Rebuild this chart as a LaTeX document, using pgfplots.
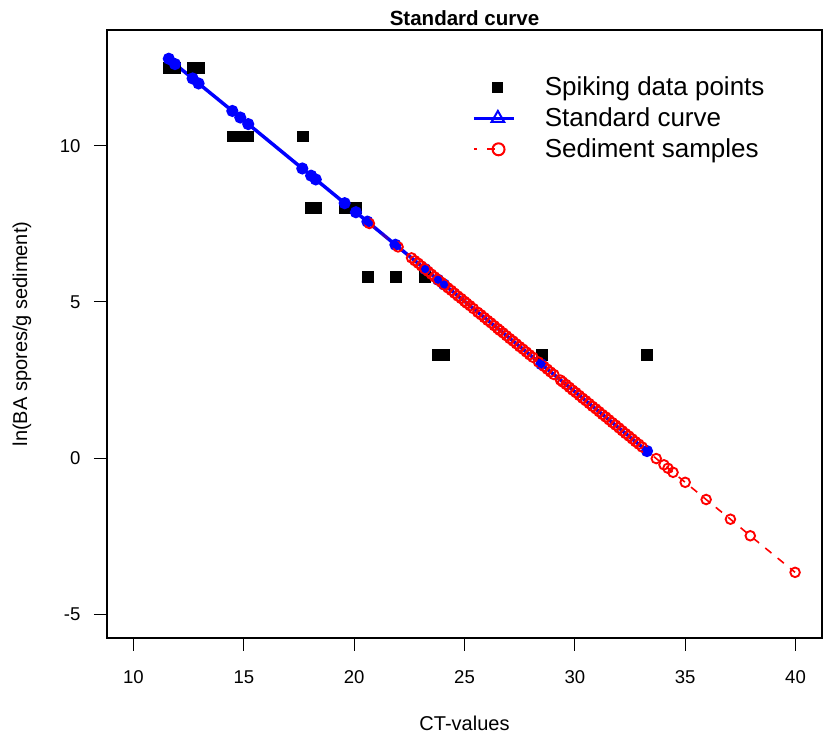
\documentclass[border=0pt]{standalone}
\usepackage{pgfplots}
\pgfplotsset{compat=1.18}
\usepackage{fontspec}
\setmainfont{Liberation Sans}

% spiking data: CT value vs ln(spores/g)
\pgfplotstableread{
x y
11.60 12.50
11.88 12.50
12.68 12.50
12.95 12.50
14.48 10.30
14.84 10.30
15.20 10.30
17.65 10.30
18.05 8.00
18.26 8.00
19.57 8.00
20.08 8.00
20.60 5.80
21.87 5.80
23.22 5.80
23.80 3.30
24.07 3.30
28.48 3.30
33.27 3.30
}\spiking

% fitted standard curve at the spiking CT values
\pgfplotstableread{
x y
11.60 12.78
11.88 12.61
12.68 12.15
12.95 11.99
14.48 11.11
14.84 10.90
15.20 10.69
17.65 9.27
18.05 9.04
18.26 8.92
19.57 8.16
20.08 7.87
20.60 7.57
21.87 6.83
23.22 6.05
23.80 5.71
24.07 5.56
28.48 3.01
33.27 0.23
}\standard

% sediment samples
\pgfplotstableread{
x y
20.69 7.51
21.99 6.76
22.60 6.41
22.75 6.32
22.90 6.24
23.05 6.15
23.20 6.06
23.35 5.98
23.50 5.89
23.65 5.80
23.80 5.71
23.95 5.63
24.10 5.54
24.25 5.45
24.40 5.37
24.55 5.28
24.70 5.19
24.85 5.11
25.00 5.02
25.10 4.96
25.25 4.88
25.40 4.79
25.60 4.67
25.75 4.59
25.90 4.50
26.05 4.41
26.20 4.33
26.35 4.24
26.50 4.15
26.60 4.09
26.75 4.01
26.90 3.92
27.05 3.83
27.20 3.75
27.35 3.66
27.50 3.57
27.65 3.49
27.80 3.40
27.95 3.31
28.10 3.23
28.35 3.08
28.60 2.94
28.75 2.85
28.90 2.76
29.05 2.68
29.35 2.50
29.45 2.44
29.60 2.36
29.75 2.27
29.90 2.18
30.05 2.10
30.20 2.01
30.35 1.92
30.50 1.84
30.65 1.75
30.80 1.66
30.95 1.58
31.10 1.49
31.25 1.40
31.40 1.32
31.55 1.23
31.70 1.14
31.85 1.06
32.00 0.97
32.15 0.88
32.30 0.79
32.45 0.71
32.60 0.62
32.75 0.53
32.90 0.45
33.05 0.36
33.69 -0.01
34.04 -0.21
34.22 -0.32
34.45 -0.45
35.00 -0.77
35.95 -1.32
37.05 -1.95
37.95 -2.48
39.98 -3.65
}\sediment

\begin{document}
\begin{tikzpicture}
\useasboundingbox (-80.25pt,-72pt) rectangle (549pt,478.5pt);
\begin{axis}[
  scale only axis,
  width=536.25pt, height=456pt,
  xmin=8.8, xmax=41.2, ymin=-5.75, ymax=13.70,
  xtick={10,15,20,25,30,35,40},
  ytick={-5,0,5,10},
  tick pos=left,
  tick align=outside,
  major tick length=9.75pt,
  tick style={black, line width=0.75pt},
  axis line style={line width=0.9pt},
  /pgf/number format/assume math mode=true,
  xticklabel style={font=\fontsize{13.9}{16}\selectfont, anchor=center, yshift=-19.5pt},
  yticklabel style={font=\fontsize{13.9}{16}\selectfont, anchor=east, inner sep=0pt, xshift=-10pt},
  xlabel={CT-values},
  xlabel style={at={(axis description cs:0.5,-0.14)}, anchor=center, font=\fontsize{15}{18}\selectfont},
  ylabel={ln(BA spores/g sediment)},
  ylabel style={at={(axis description cs:-0.119,0.5)}, anchor=center, font=\fontsize{15}{18}\selectfont},
  title={Standard curve},
  title style={at={(axis description cs:0.5,1)}, anchor=base, yshift=-2.5pt, font=\bfseries\fontsize{15.4}{18}\selectfont},
  legend style={at={(axis description cs:0.5105,0.927)}, anchor=north west, draw=none, fill=none,
    inner sep=0pt, font=\fontsize{19.5}{23}\selectfont, row sep=1.25pt, column sep=22pt,
    nodes={inner sep=0pt, text height=14pt, text depth=4pt}},
  legend cell align=left,
]
\addlegendimage{legend image code/.code={
  \path[draw=none, fill=none] (0pt,-11pt) rectangle (30pt,11pt);
  \fill[black, draw=none] (13.9pt,-2.6pt) rectangle (22.1pt,5.6pt);}}
\addlegendentry{Spiking data points}
\addlegendimage{legend image code/.code={
  \path[draw=none, fill=none] (0pt,-11pt) rectangle (30pt,11pt);
  \draw[blue, line width=2.4pt] (0pt,1.5pt) -- (30pt,1.5pt);
  \draw[blue, line width=1.5pt] plot[mark=triangle, mark size=5.5pt] coordinates {(18pt,1.5pt)};}}
\addlegendentry{Standard curve}
\addlegendimage{legend image code/.code={
  \path[draw=none, fill=none] (0pt,-11pt) rectangle (30pt,11pt);
  \draw[red, line width=1.5pt, dash pattern=on 2pt off 8pt on 6pt off 14pt on 6pt off 8pt] (0pt,1.5pt) -- (30pt,1.5pt);
  \draw[red, line width=1.5pt] plot[mark=o, mark size=4.5pt] coordinates {(18.5pt,1.5pt)};}}
\addlegendentry{Sediment samples}

\addplot[only marks, mark=square*, mark size=4.1pt, black, forget plot] table {\spiking};
\addplot[blue, line width=2.6pt, mark=*, mark size=3.2pt, forget plot] table {\standard};
\addplot[red, line width=1.2pt, dash pattern=on 6pt off 6pt, mark=o, mark size=3.6pt,
  mark options={solid, line width=1.4pt}, forget plot] table {\sediment};
\addplot[blue, line width=0.8pt, mark=*, mark size=2.6pt, forget plot] table {\standard};
\end{axis}
\end{tikzpicture}
\end{document}
